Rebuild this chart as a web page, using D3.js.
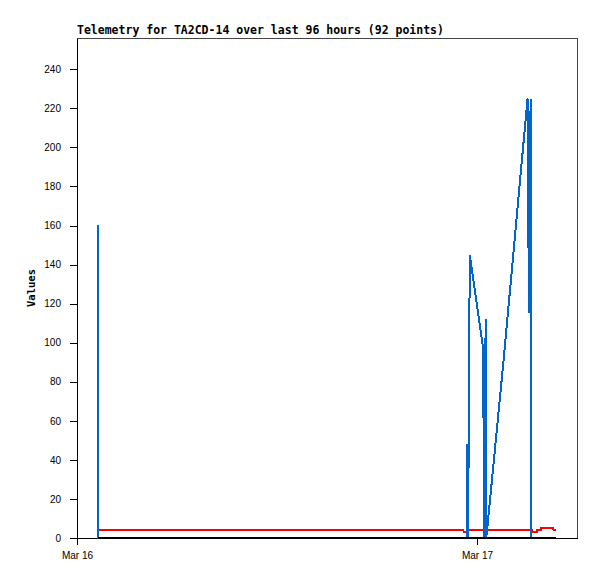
<!DOCTYPE html>
<title>Telemetry</title>
<meta charset="utf-8">
<style>
  body { margin: 0; background: #fff; }
  svg { font-family: "DejaVu Sans Mono", monospace; }
  .axis text { font-size: 10px; fill: #000; }
  .axis line, .axis path { stroke: #000; shape-rendering: crispEdges; }
  .title { font-size: 11.5px; font-weight: bold; }
  .ylabel { font-size: 10.5px; font-weight: bold; }
  .series { fill: none; stroke-width: 2px; shape-rendering: crispEdges; }
</style>
<body>
<div id="chart"></div>
<script src="https://d3js.org/d3.v7.min.js"></script>
<script>
  // data (time, value)
  var redSeries = [
    ["2024-03-16 01:15", 4], ["2024-03-16 23:11", 4], ["2024-03-16 23:12", 3],
    ["2024-03-16 23:23", 3], ["2024-03-16 23:24", 4], ["2024-03-17 03:17", 4],
    ["2024-03-17 03:19", 3], ["2024-03-17 03:35", 3], ["2024-03-17 03:36", 4],
    ["2024-03-17 03:49", 4], ["2024-03-17 03:51", 5], ["2024-03-17 04:34", 5],
    ["2024-03-17 04:36", 4], ["2024-03-17 04:43", 4]
  ];
  var blueSeries = [
    ["2024-03-16 01:15", 160], ["2024-03-16 01:17", 0], ["2024-03-16 23:23", 0],
    ["2024-03-16 23:25", 48], ["2024-03-16 23:28", 0], ["2024-03-16 23:34", 145],
    ["2024-03-17 00:21", 98], ["2024-03-17 00:23", 72], ["2024-03-17 00:25", 25],
    ["2024-03-17 00:27", 0], ["2024-03-17 00:31", 112], ["2024-03-17 00:33", 0],
    ["2024-03-17 00:37", 5], ["2024-03-17 01:35", 90], ["2024-03-17 03:02", 225],
    ["2024-03-17 03:07", 115], ["2024-03-17 03:13", 225], ["2024-03-17 03:15", 0],
    ["2024-03-17 04:43", 0]
  ];
  var blackSeries = [
    ["2024-03-16 01:15", 0], ["2024-03-17 04:43", 0]
  ];
  var xStart = "2024-03-16 00:00", xEnd = "2024-03-17 06:00";
  var xTicks = ["2024-03-16 00:00", "2024-03-17 00:00"];
  var yMax = 256;
  var yTicks = [0, 20, 40, 60, 80, 100, 120, 140, 160, 180, 200, 220, 240];
  var title = "Telemetry for TA2CD-14 over last 96 hours (92 points)";

  var parseTime = d3.timeParse("%Y-%m-%d %H:%M"),
      formatTick = d3.timeFormat("%b %d");

  var margin = {top: 38, right: 20, bottom: 41, left: 77},
      width = 597 - margin.left - margin.right,
      height = 579 - margin.top - margin.bottom;

  var svg = d3.select("#chart").append("svg")
      .attr("width", 597)
      .attr("height", 579);

  var g = svg.append("g")
      .attr("transform", "translate(" + margin.left + "," + margin.top + ")");

  var x = d3.scaleTime().domain([parseTime(xStart), parseTime(xEnd)]).range([0, width]);
  var y = d3.scaleLinear().domain([0, yMax]).range([height, 0]);

  // frame (top and right)
  g.append("path")
      .attr("d", "M0,0.5H" + (width + 0.5) + "V" + height)
      .attr("fill", "none")
      .attr("stroke", "#444")
      .attr("shape-rendering", "crispEdges");

  g.append("g")
      .attr("class", "axis")
      .attr("transform", "translate(0," + height + ")")
      .call(d3.axisBottom(x)
        .tickValues(xTicks.map(parseTime))
        .tickFormat(formatTick)
        .tickSize(7).tickSizeOuter(0).tickPadding(7));

  g.append("g")
      .attr("class", "axis")
      .call(d3.axisLeft(y).tickValues(yTicks)
        .tickSize(7).tickSizeOuter(0).tickPadding(9));

  var line = d3.line()
      .x(function(d) { return x(parseTime(d[0])); })
      .y(function(d) { return y(d[1]); });

  g.append("path").datum(redSeries).attr("class", "series").attr("stroke", "#ff0000").attr("d", line);
  g.append("path").datum(blueSeries).attr("class", "series").attr("stroke", "#0066cc").attr("d", line);
  g.append("path").datum(blackSeries).attr("class", "series").attr("stroke", "#000").attr("d", line);

  svg.append("text")
      .attr("class", "title")
      .attr("x", margin.left)
      .attr("y", 34)
      .text(title);

  svg.append("text")
      .attr("class", "ylabel")
      .attr("transform", "translate(35," + (margin.top + height / 2) + ") rotate(-90)")
      .attr("text-anchor", "middle")
      .text("Values");
</script>
</body>
